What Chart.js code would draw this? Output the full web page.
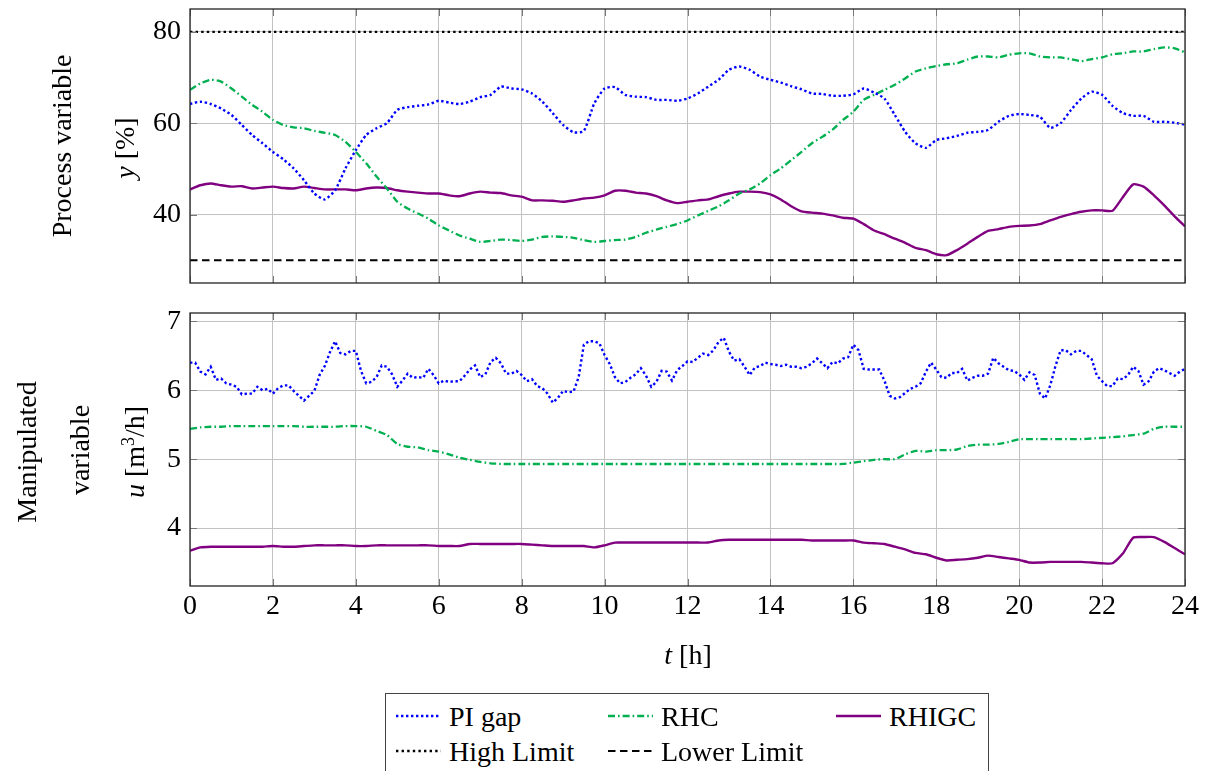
<!DOCTYPE html>
<html>
<head>
<meta charset="utf-8">
<script src="https://cdn.jsdelivr.net/npm/chart.js@4.4.1/dist/chart.umd.min.js"></script>
<style>
body { margin:0; background:#fff; width:1207px; height:771px; overflow:hidden; position:relative; font-family:"Liberation Serif", "DejaVu Serif", serif; color:#000; }
canvas { position:absolute; left:0; }
#topChart { top:0; }
#bottomChart { top:300px; }
.ylab { position:absolute; font-size:28px; line-height:1; white-space:nowrap; transform:translate(-50%,-50%) rotate(-90deg); }
.xlab { position:absolute; font-size:28px; line-height:1; white-space:nowrap; transform:translate(-50%,-50%); }
#legend { position:absolute; left:385px; top:693px; width:604px; height:100px; border:1px solid #444; box-sizing:border-box; }
#legend .sample { position:absolute; }
#legend .txt { position:absolute; font-size:28px; line-height:1; white-space:nowrap; transform:translateY(-50%); }
sup { font-size:18px; line-height:0; }
</style>
</head>
<body>
<canvas id="topChart" width="1207" height="300"></canvas>
<canvas id="bottomChart" width="1207" height="340"></canvas>

<div class="ylab" style="left:62px; top:146px;">Process variable</div>
<div class="ylab" style="left:125px; top:148px;"><i>y</i> [%]</div>
<div class="ylab" style="left:27px; top:452px;">Manipulated</div>
<div class="ylab" style="left:80px; top:450px;">variable</div>
<div class="ylab" style="left:135px; top:452px;"><i>u</i> [m<sup>3</sup>/h]</div>
<div class="xlab" style="left:688px; top:655px;"><i>t</i> [h]</div>
<div id="legend"></div>

<script>
// sample times [h]
const hours = Array.from({ length: 97 }, (_, i) => i * 0.25);
const hoursFine = Array.from({ length: 193 }, (_, i) => i * 0.125);
const limitHours = [0, 24];

const xTicks = [0, 2, 4, 6, 8, 10, 12, 14, 16, 18, 20, 22, 24];
const yTicksTop = [40, 60, 80];
const yTicksBottom = [4, 5, 6, 7];

// process variable y [%]
const piGapY = [
    64.2, 64.7, 64.2, 63.2, 61.8, 59.6, 57.4, 55.6, 53.7, 52.1, 50.1, 47.5,
    44.6, 43.3, 45.3, 50.1, 54.1, 57.4, 58.9, 60.0, 62.9, 63.5, 63.8, 64.1,
    64.9, 64.5, 64.2, 64.7, 65.7, 66.2, 68.0, 67.6, 67.4, 66.5, 64.7, 62.2,
    59.6, 58.0, 58.3, 64.3, 67.6, 67.9, 66.2, 65.8, 65.7, 65.1, 65.1, 64.9,
    65.4, 66.5, 68.0, 69.5, 71.7, 72.4, 71.7, 70.2, 69.5, 68.9, 68.1, 67.4,
    66.5, 66.4, 66.0, 66.0, 66.3, 67.6, 66.7, 65.4, 61.8, 58.1, 55.6, 54.6,
    56.3, 56.7, 57.2, 57.9, 58.1, 58.5, 60.3, 61.6, 62.0, 61.8, 61.4, 59.0,
    60.0, 62.9, 65.4, 66.9, 66.2, 63.8, 62.2, 61.6, 61.6, 60.3, 60.3, 60.1,
    59.7
];
const rhcY = [
    67.3, 68.7, 69.5, 69.1, 67.6, 65.8, 64.0, 62.5, 60.7, 59.6, 59.1, 58.9,
    58.3, 57.9, 57.4, 55.9, 53.7, 51.2, 48.3, 45.7, 42.8, 41.3, 40.2, 39.1,
    37.6, 36.5, 35.4, 34.7, 34.0, 34.2, 34.5, 34.4, 34.2, 34.5, 35.1, 35.2,
    35.1, 34.9, 34.4, 34.0, 34.2, 34.4, 34.5, 35.1, 36.0, 36.7, 37.3, 37.9,
    38.7, 39.8, 40.8, 41.8, 43.1, 44.6, 45.5, 46.8, 48.6, 50.1, 51.9, 53.7,
    55.6, 57.0, 58.6, 60.7, 62.5, 65.1, 66.2, 67.3, 68.4, 69.8, 71.3, 72.0,
    72.5, 72.9, 73.1, 73.9, 74.6, 74.6, 74.4, 75.0, 75.3, 75.3, 74.6, 74.4,
    74.4, 74.0, 73.6, 74.0, 74.4, 75.1, 75.3, 75.7, 75.7, 76.2, 76.6, 76.4,
    75.5
];
const rhigcY = [
    45.5, 46.4, 46.8, 46.4, 46.1, 46.2, 45.7, 45.9, 46.1, 45.8, 45.7, 46.1,
    45.8, 45.5, 45.5, 45.5, 45.3, 45.7, 45.9, 45.8, 45.3, 45.0, 44.8, 44.6,
    44.6, 44.2, 44.0, 44.6, 45.0, 44.8, 44.7, 44.2, 43.9, 43.1, 43.1, 43.0,
    42.8, 43.1, 43.5, 43.7, 44.2, 45.2, 45.2, 44.8, 44.6, 44.0, 43.1, 42.5,
    42.8, 43.1, 43.3, 44.0, 44.6, 45.0, 45.0, 44.9, 44.4, 43.3, 41.8, 40.7,
    40.4, 40.2, 39.8, 39.3, 39.1, 37.9, 36.5, 35.7, 34.7, 33.8, 32.7, 32.2,
    31.3, 31.1, 32.2, 33.6, 35.1, 36.4, 36.8, 37.3, 37.5, 37.6, 37.9, 38.7,
    39.5, 40.1, 40.6, 40.9, 40.9, 40.8, 43.8, 46.6, 46.1, 44.2, 42.0, 39.6,
    37.4
];
const highLimit = [80, 80];
const lowerLimit = [30, 30];

// manipulated variable u [m3/h]
const piGapU = [
    6.40, 6.40, 6.27, 6.23, 6.34, 6.15, 6.17, 6.10,
    6.08, 6.05, 5.94, 5.95, 5.95, 6.05, 6.00, 6.02,
    5.95, 6.03, 6.07, 6.07, 5.99, 5.92, 5.85, 5.92,
    5.99, 6.22, 6.35, 6.55, 6.71, 6.54, 6.52, 6.57,
    6.57, 6.28, 6.10, 6.12, 6.19, 6.36, 6.34, 6.23,
    6.05, 6.14, 6.24, 6.18, 6.19, 6.18, 6.31, 6.22,
    6.10, 6.14, 6.12, 6.13, 6.13, 6.21, 6.30, 6.36,
    6.19, 6.23, 6.41, 6.47, 6.39, 6.24, 6.24, 6.28,
    6.22, 6.13, 6.16, 6.06, 6.03, 5.95, 5.82, 5.89,
    5.99, 5.97, 5.98, 6.19, 6.66, 6.71, 6.71, 6.68,
    6.51, 6.38, 6.19, 6.10, 6.12, 6.18, 6.23, 6.32,
    6.21, 6.05, 6.12, 6.28, 6.27, 6.14, 6.29, 6.35,
    6.42, 6.41, 6.47, 6.53, 6.51, 6.58, 6.70, 6.76,
    6.56, 6.43, 6.45, 6.34, 6.22, 6.33, 6.35, 6.40,
    6.38, 6.37, 6.35, 6.37, 6.34, 6.34, 6.32, 6.34,
    6.39, 6.46, 6.39, 6.32, 6.41, 6.39, 6.46, 6.48,
    6.66, 6.58, 6.31, 6.30, 6.30, 6.30, 6.14, 5.92,
    5.88, 5.90, 5.96, 6.02, 6.05, 6.10, 6.27, 6.40,
    6.30, 6.19, 6.18, 6.25, 6.25, 6.31, 6.14, 6.18,
    6.21, 6.21, 6.24, 6.47, 6.39, 6.34, 6.29, 6.28,
    6.23, 6.15, 6.26, 6.22, 5.95, 5.88, 6.07, 6.35,
    6.58, 6.58, 6.52, 6.57, 6.57, 6.51, 6.45, 6.21,
    6.13, 6.06, 6.06, 6.17, 6.16, 6.22, 6.34, 6.28,
    6.08, 6.13, 6.27, 6.32, 6.29, 6.25, 6.21, 6.27,
    6.31
];
const rhcU = [
    5.44, 5.46, 5.47, 5.47, 5.48, 5.48, 5.48, 5.48, 5.48, 5.48, 5.48, 5.47,
    5.47, 5.47, 5.47, 5.48, 5.48, 5.47, 5.41, 5.35, 5.22, 5.18, 5.17, 5.13,
    5.11, 5.07, 5.02, 4.99, 4.96, 4.94, 4.93, 4.93, 4.93, 4.93, 4.93, 4.93,
    4.93, 4.93, 4.93, 4.93, 4.93, 4.93, 4.93, 4.93, 4.93, 4.93, 4.93, 4.93,
    4.93, 4.93, 4.93, 4.93, 4.93, 4.93, 4.93, 4.93, 4.93, 4.93, 4.93, 4.93,
    4.93, 4.93, 4.93, 4.93, 4.95, 4.97, 4.99, 5.00, 5.00, 5.07, 5.12, 5.11,
    5.13, 5.13, 5.14, 5.19, 5.21, 5.21, 5.22, 5.25, 5.29, 5.29, 5.29, 5.29,
    5.29, 5.29, 5.29, 5.30, 5.31, 5.32, 5.33, 5.35, 5.37, 5.44, 5.47, 5.47,
    5.47
];
const rhigcU = [
    3.67, 3.72, 3.73, 3.73, 3.73, 3.73, 3.73, 3.73, 3.74, 3.73, 3.73, 3.74,
    3.75, 3.75, 3.75, 3.75, 3.74, 3.74, 3.75, 3.75, 3.75, 3.75, 3.75, 3.75,
    3.74, 3.74, 3.74, 3.77, 3.77, 3.77, 3.77, 3.77, 3.77, 3.76, 3.75, 3.74,
    3.74, 3.74, 3.74, 3.72, 3.75, 3.79, 3.79, 3.79, 3.79, 3.79, 3.79, 3.79,
    3.79, 3.79, 3.79, 3.82, 3.83, 3.83, 3.83, 3.83, 3.83, 3.83, 3.83, 3.83,
    3.82, 3.82, 3.82, 3.82, 3.82, 3.79, 3.78, 3.77, 3.73, 3.69, 3.64, 3.62,
    3.57, 3.53, 3.54, 3.55, 3.57, 3.60, 3.58, 3.56, 3.54, 3.50, 3.50, 3.51,
    3.51, 3.51, 3.51, 3.50, 3.49, 3.49, 3.63, 3.86, 3.87, 3.87, 3.80, 3.71,
    3.62
];

const FONT = '"Liberation Serif", "DejaVu Serif", serif';

const styles = {
    'PI gap':      { color: '#0000ff', dash: [2.4, 2.6], width: 2.4 },
    'RHC':         { color: '#00b050', dash: [7, 3, 1.6, 3], width: 2.3 },
    'RHIGC':       { color: '#800080', dash: [], width: 2.4 },
    'High Limit':  { color: '#000000', dash: [2.4, 3.2], width: 2.4 },
    'Lower Limit': { color: '#000000', dash: [7.5, 4.5], width: 2 }
};

function line(label, xs, ys, tension) {
    const s = styles[label];
    return {
        label: label,
        data: xs.map((x, i) => ({ x: x, y: ys[i] })),
        borderColor: s.color,
        borderWidth: s.width,
        borderDash: s.dash,
        pointRadius: 0,
        tension: tension || 0,
        fill: false
    };
}

// frame + small inner ticks like pgfplots
const framePlugin = {
    id: 'frame',
    afterDraw(chart) {
        const ctx = chart.ctx;
        const a = chart.chartArea;
        const sx = chart.scales.x, sy = chart.scales.y;
        ctx.save();
        ctx.strokeStyle = '#777';
        ctx.lineWidth = 1;
        ctx.beginPath();
        sx.ticks.forEach(t => {
            const px = Math.round(sx.getPixelForValue(t.value)) + 0.5;
            ctx.moveTo(px, a.top); ctx.lineTo(px, a.top + 7);
            ctx.moveTo(px, a.bottom); ctx.lineTo(px, a.bottom - 7);
        });
        sy.ticks.forEach(t => {
            const py = Math.round(sy.getPixelForValue(t.value)) + 0.5;
            ctx.moveTo(a.left, py); ctx.lineTo(a.left + 7, py);
            ctx.moveTo(a.right, py); ctx.lineTo(a.right - 7, py);
        });
        ctx.stroke();
        ctx.strokeStyle = '#222';
        ctx.lineWidth = 1.3;
        ctx.strokeRect(a.left, a.top, a.right - a.left, a.bottom - a.top);
        ctx.restore();
    }
};

function makeOptions(yMin, yMax, yTicks, showX, padding) {
    return {
        responsive: false,
        animation: false,
        devicePixelRatio: 1,
        layout: { padding: padding },
        plugins: { legend: { display: false }, tooltip: { enabled: false } },
        scales: {
            x: {
                type: 'linear', min: 0, max: 24,
                afterBuildTicks: s => { s.ticks = xTicks.map(v => ({ value: v })); },
                afterFit: s => {
                    s.height = showX ? 40 : 0;
                    s.paddingLeft = 0; s.paddingRight = 0;
                },
                grid: { color: '#c2c2c2', drawTicks: false },
                border: { display: false },
                ticks: { display: showX, color: '#000', font: { family: FONT, size: 28 }, padding: 4, maxRotation: 0, autoSkip: false }
            },
            y: {
                type: 'linear', min: yMin, max: yMax,
                afterBuildTicks: s => { s.ticks = yTicks.map(v => ({ value: v })); },
                afterFit: s => {
                    s.width = 190;
                    s.paddingTop = 0; s.paddingBottom = 0;
                },
                grid: { color: '#c2c2c2', drawTicks: false },
                border: { display: false },
                ticks: { color: '#000', font: { family: FONT, size: 28 }, padding: 9 }
            }
        }
    };
}

const topDatasets = [
    line('PI gap', hours, piGapY, 0.2),
    line('RHC', hours, rhcY, 0.2),
    line('RHIGC', hours, rhigcY, 0.2),
    line('High Limit', limitHours, highLimit),
    line('Lower Limit', limitHours, lowerLimit)
];

new Chart(document.getElementById('topChart').getContext('2d'), {
    type: 'line',
    data: { datasets: topDatasets },
    options: makeOptions(25, 85, yTicksTop, false, { left: 0, right: 22, top: 9, bottom: 17 }),
    plugins: [framePlugin]
});

new Chart(document.getElementById('bottomChart').getContext('2d'), {
    type: 'line',
    data: {
        datasets: [
            line('PI gap', hoursFine, piGapU),
            line('RHC', hours, rhcU, 0.2),
            line('RHIGC', hours, rhigcU, 0.2)
        ]
    },
    options: makeOptions(3.16, 7.12, yTicksBottom, true, { left: 0, right: 22, top: 13, bottom: 14 }),
    plugins: [framePlugin]
});

// legend box (3 columns, 2 rows)
const legendCols = [10, 222, 450];
const legendRows = [22, 57];
const legendEntries = ['PI gap', 'RHC', 'RHIGC', 'High Limit', 'Lower Limit'];
const legend = document.getElementById('legend');
legendEntries.forEach((name, i) => {
    const s = styles[name];
    const x = legendCols[i % 3], y = legendRows[Math.floor(i / 3)];
    const svg = document.createElementNS('http://www.w3.org/2000/svg', 'svg');
    svg.setAttribute('class', 'sample');
    svg.setAttribute('width', 45);
    svg.setAttribute('height', 10);
    svg.style.left = x + 'px';
    svg.style.top = (y - 5) + 'px';
    const ln = document.createElementNS('http://www.w3.org/2000/svg', 'line');
    ln.setAttribute('x1', 0); ln.setAttribute('y1', 5);
    ln.setAttribute('x2', 45); ln.setAttribute('y2', 5);
    ln.setAttribute('stroke', s.color);
    ln.setAttribute('stroke-width', s.width);
    if (s.dash.length) ln.setAttribute('stroke-dasharray', s.dash.join(' '));
    svg.appendChild(ln);
    legend.appendChild(svg);
    const txt = document.createElement('div');
    txt.className = 'txt';
    txt.textContent = name;
    txt.style.left = (x + 53) + 'px';
    txt.style.top = (y + 1) + 'px';
    legend.appendChild(txt);
});
</script>
</body>
</html>
